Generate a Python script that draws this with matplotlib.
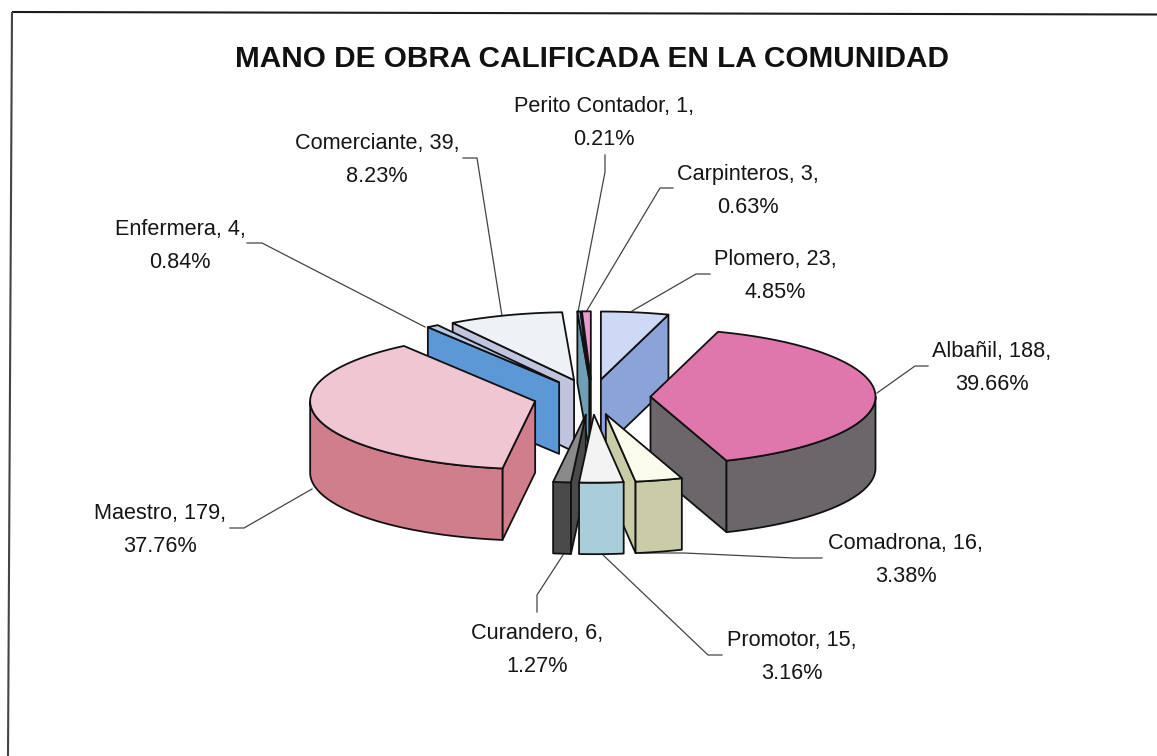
import numpy as np
import matplotlib
matplotlib.use("Agg")
import matplotlib.pyplot as plt
from matplotlib.patches import Polygon

plt.rcParams['font.family'] = ['Liberation Sans', 'DejaVu Sans']

TITLE = "MANO DE OBRA CALIFICADA EN LA COMUNIDAD"
categories = ["Plomero", "Albañil", "Comadrona", "Promotor", "Curandero",
              "Maestro", "Enfermera", "Comerciante", "Perito Contador", "Carpinteros"]
values = [23, 188, 16, 15, 6, 179, 4, 39, 1, 3]
percents = [4.85, 39.66, 3.38, 3.16, 1.27, 37.76, 0.84, 8.23, 0.21, 0.63]
top_colors = ["#CDD9F5", "#E077AC", "#FBFBEC", "#F3F3F3", "#8A8A8A",
              "#F0C6D2", "#B4C8EA", "#EEF1F5", "#9DB8E0", "#E79CCF"]
side_colors = ["#8CA3DA", "#6A666A", "#C9CCA6", "#A9CEDA", "#4A4A4A",
               "#D07E8B", "#5C97D6", "#C0C4DC", "#6E9FB4", "#2F3F68"]

# layout in pixels of the 1157x756 canvas
CX, CY, RX, RY, DEPTH, EXPLODE = 592, 397, 225, 68, 71.5, 0.26
label_xy = [(775, 276), (992, 368), (906, 560), (792, 657), (537, 650),
            (160, 530), (180, 246), (377, 160), (604, 123), (748, 191)]
leaders = [
    [(710, 274), (696, 274), (632, 311)],
    [(928, 366), (915, 366), (877, 393)],
    [(822, 558), (794, 558), (684, 553), (640, 553)],
    [(722, 655), (708, 655), (603, 555)],
    [(537, 612), (537, 595), (563, 555)],
    [(230, 528), (244, 528), (312, 489)],
    [(247, 243), (262, 243), (425, 327)],
    [(463, 158), (477, 158), (502, 316)],
    [(605, 155), (605, 172), (578, 312)],
    [(673, 188), (660, 188), (586, 312)],
]

fig = plt.figure(figsize=(11.57, 7.56), dpi=100, facecolor="white")
ax = fig.add_axes([0, 0, 1, 1])
ax.set_xlim(0, 1157)
ax.set_ylim(756, 0)
ax.axis("off")

# scanned frame: only the top and left rules show
ax.plot([12, 1157], [12, 14.5], color="#1c1c1c", lw=1.5, solid_capstyle="butt")
ax.plot([12, 8], [12, 756], color="#444444", lw=1.5, solid_capstyle="butt")

ax.text(592, 59, TITLE, ha="center", va="center", fontsize=21.4,
        fontweight="bold", color="#111111")

vals = np.array(values, dtype=float)
edges = np.concatenate([[0], np.cumsum(vals)]) / vals.sum() * 2 * np.pi


def pt(theta, ox, oy, dz=0.0):
    return ox + RX * np.sin(theta), oy - RY * np.cos(theta) + dz


def face(pts, color, z):
    ax.add_patch(Polygon(pts, closed=True, facecolor=color, edgecolor="#111111",
                         lw=1.3, joinstyle="round", zorder=z))


mids = (edges[:-1] + edges[1:]) / 2
order = np.argsort(-np.cos(mids))
for rank, i in enumerate(order):
    a0, a1, m = edges[i], edges[i + 1], mids[i]
    ox = CX + EXPLODE * RX * np.sin(m)
    oy = CY - EXPLODE * RY * np.cos(m)
    z = 3 + rank
    # straight cut faces that look toward the viewer
    for a, show in ((a0, np.sin(a0) < 0), (a1, np.sin(a1) > 0)):
        if show:
            x, y = pt(a, ox, oy)
            face([(ox, oy), (x, y), (x, y + DEPTH), (ox, oy + DEPTH)], side_colors[i], z)
    # outer wall: front half of the rim only
    lo, hi = max(a0, np.pi / 2), min(a1, 3 * np.pi / 2)
    if hi > lo:
        t = np.linspace(lo, hi, 80)
        xs, ys = pt(t, ox, oy)
        wall = list(zip(xs, ys)) + list(zip(xs[::-1], ys[::-1] + DEPTH))
        face(wall, side_colors[i], z)
    # top surface
    t = np.linspace(a0, a1, 120)
    xs, ys = pt(t, ox, oy)
    face([(ox, oy)] + list(zip(xs, ys)), top_colors[i], z)

for name, v, p, (x, y), line in zip(categories, values, percents, label_xy, leaders):
    ax.text(x, y, f"{name}, {v},\n{p:.2f}%", ha="center", va="center",
            fontsize=15.6, linespacing=1.74, color="#151515", zorder=30)
    lx, ly = zip(*line)
    ax.plot(lx, ly, color="#444444", lw=0.9, zorder=2)

fig.savefig("out.png", dpi=100, facecolor="white")
